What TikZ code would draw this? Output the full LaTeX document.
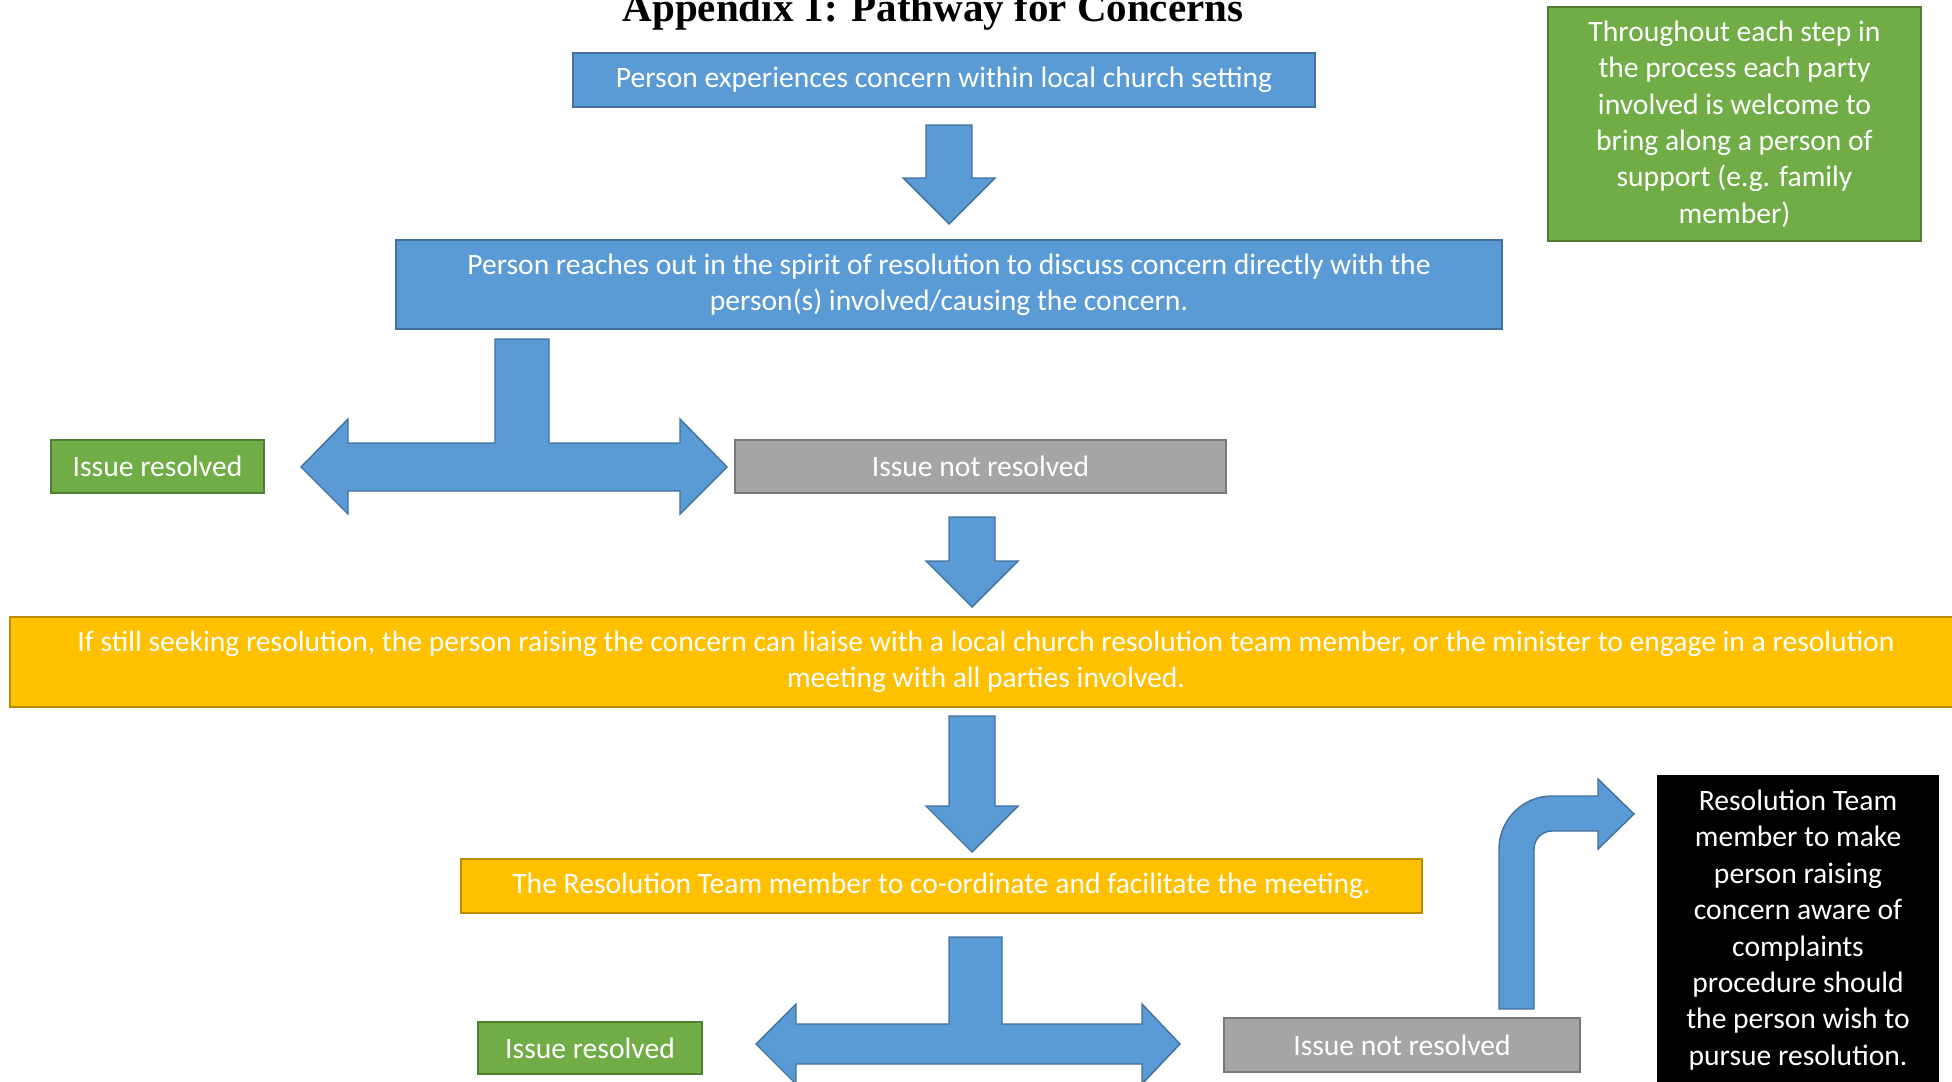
\documentclass[tikz,border=0pt]{standalone}
\usepackage{fontspec}
\setmainfont{Carlito}
\newfontfamily\titlefont{Liberation Serif}
\usepackage{xcolor}
\definecolor{boxblue}{HTML}{5B9BD5}
\definecolor{blueline}{HTML}{41719C}
\definecolor{boxgreen}{HTML}{70AD47}
\definecolor{greenline}{HTML}{507E32}
\definecolor{boxgrey}{HTML}{A5A5A5}
\definecolor{greyline}{HTML}{787878}
\definecolor{boxgold}{HTML}{FFC000}
\definecolor{goldline}{HTML}{BC8C00}
\def\boxfont{\fontsize{14.8}{18.2}\selectfont}

\begin{document}
\begin{tikzpicture}[x=0.5pt,y=-0.5pt]
    \tikzstyle{box}=[rectangle, inner sep=0pt, text=white, font=\boxfont, align=center, line width=1pt]
    \tikzstyle{blue box}=[box, fill=boxblue, draw=blueline]
    \tikzstyle{green box}=[box, fill=boxgreen, draw=greenline]
    \tikzstyle{grey box}=[box, fill=boxgrey, draw=greyline]
    \tikzstyle{gold box}=[box, fill=boxgold, draw=goldline]
    \tikzstyle{dark box}=[box, fill=black, draw=black]
    \tikzstyle{block arrow}=[fill=boxblue, draw=blueline, line width=0.7pt]

    \useasboundingbox (0,0) rectangle (1952,1081);

    \node[anchor=base, font=\titlefont\bfseries\fontsize{20.5}{24}\selectfont] (title) at (933,22) {Appendix 1: Pathway for Concerns};

    \node[blue box, minimum width=371pt, minimum height=27pt] (concern) at (944,80) {Person experiences concern within local church setting};
    \node[blue box, minimum width=553pt, minimum height=44.5pt] (reach) at (949,284.5) {Person reaches out in the spirit of resolution to discuss concern directly with the\\person(s) involved/causing the concern.};
    \node[green box, minimum width=106.5pt, minimum height=26.5pt] (res-1) at (157.5,466.5) {Issue resolved};
    \node[grey box, minimum width=245.5pt, minimum height=26.5pt] (notres-1) at (980.5,466.5) {Issue not resolved};
    \node[gold box, minimum width=976pt, minimum height=45pt] (seek) at (986,662) {If still seeking resolution, the person raising the concern can liaise with a local church resolution team member, or the minister to engage in a resolution\\meeting with all parties involved.};
    \node[gold box, minimum width=480.5pt, minimum height=27pt] (meet) at (941.5,886) {The Resolution Team member to co-ordinate and facilitate the meeting.};
    \node[green box, minimum width=112pt, minimum height=26pt] (res-2) at (590,1048) {Issue resolved};
    \node[grey box, minimum width=178pt, minimum height=27pt] (notres-2) at (1402,1045) {Issue not resolved};
    \node[dark box, minimum width=140pt, minimum height=154pt] (complain) at (1798,930) {Resolution Team\\member to make\\person raising\\concern aware of\\complaints\\procedure should\\the person wish to\\pursue resolution.};
    \node[green box, minimum width=186.5pt, minimum height=117pt] (support) at (1734.5,124) {Throughout each step in\\the process each party\\involved is welcome to\\bring along a person of\\support (e.g. family\\member)};

    % straight arrows down
    \foreach \cx/\top/\base/\tip in {949/125/178/224, 972/517/561/607, 972/716/806/852}{
        \draw[block arrow] (\cx-23,\top) -- (\cx+23,\top) -- (\cx+23,\base) -- (\cx+46,\base) -- (\cx,\tip) -- (\cx-46,\base) -- (\cx-23,\base) -- cycle;
    }

    % split arrows
    \draw[block arrow] (495,339) -- (549,339) -- (549,443) -- (680,443) -- (680,419) -- (727,467) -- (680,514) -- (680,491)
        -- (348,491) -- (348,514) -- (301,467) -- (348,419) -- (348,443) -- (495,443) -- cycle;
    \draw[block arrow] (949,937) -- (1002,937) -- (1002,1024) -- (1142,1024) -- (1142,1004) -- (1180,1044) -- (1142,1084) -- (1142,1064)
        -- (796,1064) -- (796,1084) -- (756,1044) -- (796,1004) -- (796,1024) -- (949,1024) -- cycle;

    % bent arrow
    \draw[block arrow] (1499,1009) [rounded corners=26.5pt] -- (1499,796) [sharp corners] -- (1598,796) -- (1598,779) -- (1634,814)
        -- (1598,849) -- (1598,831) [rounded corners=9pt] -- (1534,831) [sharp corners] -- (1534,1009) -- cycle;
\end{tikzpicture}
\end{document}
